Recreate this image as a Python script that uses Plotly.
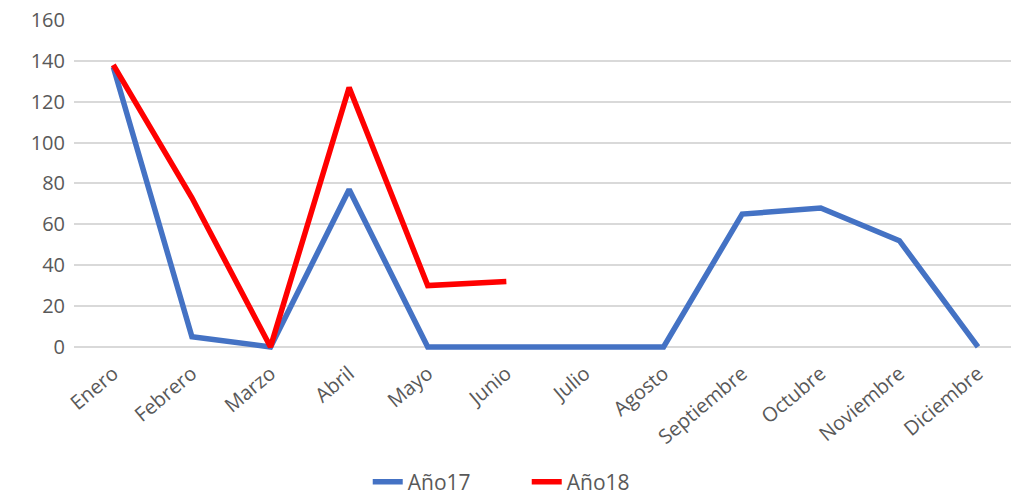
import plotly.graph_objects as go

meses = ["Enero", "Febrero", "Marzo", "Abril", "Mayo", "Junio", "Julio",
         "Agosto", "Septiembre", "Octubre", "Noviembre", "Diciembre"]
anio17 = [137, 5, 0, 77, 0, 0, 0, 0, 65, 68, 52, 0]
meses18 = ["Enero", "Febrero", "Marzo", "Abril", "Mayo", "Junio"]
anio18 = [138, 73, 0, 127, 30, 32]
y_ticks = [0, 20, 40, 60, 80, 100, 120, 140, 160]

fig = go.Figure()
fig.add_trace(go.Scatter(x=meses, y=anio17, mode="lines", name="Año17",
                         line=dict(color="#4472C4", width=5.5)))
fig.add_trace(go.Scatter(x=meses18, y=anio18, mode="lines", name="Año18",
                         line=dict(color="#FF0000", width=5.5)))

font_family = "Open Sans, Noto Sans, sans-serif"
fig.update_layout(
    width=1011, height=500,
    margin=dict(l=74, r=0, t=20, b=149, autoexpand=False),
    plot_bgcolor="white", paper_bgcolor="white",
    font=dict(family=font_family, color="#595959", size=20),
    xaxis=dict(categoryorder="array", categoryarray=meses,
               range=[-0.5, 11.42], tickangle=-40, showgrid=False,
               showline=False, ticks="", tickfont=dict(size=20),
               zeroline=False, ticklabelstandoff=6),
    yaxis=dict(range=[-2, 160], tickvals=y_ticks, showgrid=True,
               gridcolor="#D9D9D9", gridwidth=1.5, zeroline=False,
               showline=False, ticks="", tickfont=dict(size=20),
               ticklabelstandoff=8),
    showlegend=True,
    legend=dict(orientation="h", x=0.521, xanchor="center", xref="container",
                y=0.036, yanchor="middle", yref="container",
                entrywidth=114,
                font=dict(size=21, color="#595959")),
)
fig.write_html("out.html")
